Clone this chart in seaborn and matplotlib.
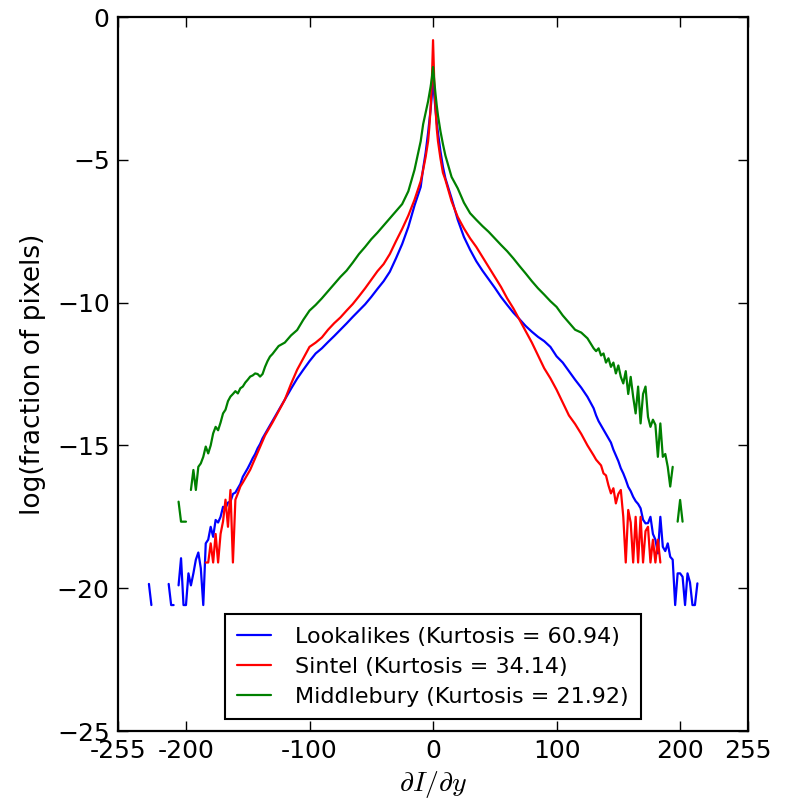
import matplotlib

matplotlib.use("Agg")

import matplotlib.pyplot as plt
import numpy as np
import pandas as pd
import seaborn as sns
from matplotlib.lines import Line2D

nan = np.nan

# gradient bins sampled from the figure (denser in the noisy tails and at the peak)
grad = np.concatenate([
    np.arange(-232, -131, 2),
    np.arange(-130, -14, 5),
    np.array([-10, -8, -6, -4, -3, -2, -1, 0, 1, 2, 3, 4, 6, 8, 10]),
    np.arange(15, 131, 5),
    np.arange(132, 217, 2),
])

lookalikes = [
    # left tail -232..-132
    nan, -19.85, -20.59, nan, nan, nan, nan, nan, nan, -19.85,
    -20.59, -20.59, nan, -19.9, -18.95, -20.59, -20.59, -19.48, -19.9, -19.48,
    -19.0, -18.75, -19.3, -20.59, -18.43, -18.3, -17.85, -18.2, -17.61, -17.7,
    -17.5, -17.15, -17.2, -17.0, -16.97, -16.7, -16.65, -16.5, -16.35, -16.1,
    -15.95, -15.8, -15.63, -15.45, -15.3, -15.1, -14.95, -14.75, -14.6, -14.45,
    -14.3,
    # -130..-15
    -14.15, -13.78, -13.4, -13.02, -12.66, -12.35, -12.05, -11.78, -11.6, -11.38,
    -11.17, -10.95, -10.73, -10.5, -10.28, -10.06, -9.8, -9.52, -9.25, -8.92,
    -8.45, -7.95, -7.35, -6.6,
    # peak
    -5.95, -5.3, -4.75, -4.05, -3.65, -3.25, -2.75, -2.2, -2.75, -3.25,
    -3.7, -4.05, -4.7, -5.24, -5.65,
    # 15..130
    -6.35, -7.1, -7.7, -8.15, -8.55, -8.88, -9.18, -9.48, -9.8, -10.08,
    -10.35, -10.58, -10.82, -11.02, -11.2, -11.35, -11.55, -11.88, -12.1, -12.4,
    -12.7, -12.98, -13.3, -13.7,
    # right tail 132..216
    -13.95, -14.15, -14.3, -14.45, -14.6, -14.75, -14.9, -15.15, -15.35, -15.55,
    -15.8, -15.98, -16.2, -16.45, -16.6, -16.8, -16.95, -17.05, -17.2, -17.6,
    -17.73, -17.72, -17.5, -18.1, -18.3, -18.78, -17.5, -18.55, -18.7, -18.43,
    -18.9, -19.0, -20.59, -19.48, -19.48, -19.6, -20.59, -19.48, -19.8, -20.59,
    -20.59, -19.83, nan,
]

sintel = [
    nan, nan, nan, nan, nan, nan, nan, nan, nan, nan,
    nan, nan, nan, nan, nan, nan, nan, nan, nan, nan,
    nan, nan, nan, nan, -19.1, -19.1, -18.43, -19.1, -18.1, -19.1,
    -18.1, -17.66, -16.9, -17.85, -16.56, -19.1, -16.9, -16.68, -16.44, -16.3,
    -16.15, -16.0, -15.85, -15.65, -15.45, -15.25, -15.05, -14.85, -14.65, -14.5,
    -14.35,
    -14.2, -13.8, -13.4, -12.85, -12.35, -11.95, -11.55, -11.4, -11.22, -10.95,
    -10.72, -10.52, -10.28, -10.05, -9.78, -9.5, -9.2, -8.9, -8.65, -8.3,
    -7.85, -7.42, -6.95, -6.4,
    -5.75, -5.35, -4.9, -4.35, -3.85, -3.2, -2.3, -0.81, -2.3, -3.2,
    -3.9, -4.35, -4.95, -5.45, -5.7,
    -6.45, -7.0, -7.4, -7.75, -8.05, -8.4, -8.75, -9.1, -9.45, -9.85,
    -10.2, -10.6, -11.0, -11.4, -11.85, -12.3, -12.65, -13.05, -13.5, -13.95,
    -14.25, -14.6, -15.0, -15.35,
    -15.5, -15.6, -15.7, -15.98, -16.05, -16.4, -16.68, -16.5, -17.03, -16.7,
    -16.56, -17.5, -19.1, -17.26, -17.7, -19.1, -17.5, -19.1, -17.5, -19.1,
    -18.0, -17.85, -19.1, -18.3, -19.1, -18.3, -19.1, nan, nan, nan,
    nan, nan, nan, nan, nan, nan, nan, nan, nan, nan,
    nan, nan, nan,
]

middlebury = [
    nan, nan, nan, nan, nan, nan, nan, nan, nan, nan,
    nan, nan, nan, -16.97, -17.67, -17.67, -17.67, nan, -16.56, -15.86,
    -16.56, -15.75, -15.63, -15.4, -15.04, -15.28, -15.0, -14.58, -14.35, -14.47,
    -14.2, -13.88, -13.75, -13.45, -13.29, -13.2, -13.1, -13.18, -13.0, -12.94,
    -12.8, -12.7, -12.59, -12.55, -12.48, -12.5, -12.59, -12.5, -12.25, -12.05,
    -11.89,
    -11.8, -11.52, -11.4, -11.15, -10.96, -10.6, -10.28, -10.08, -9.85, -9.6,
    -9.35, -9.1, -8.88, -8.6, -8.3, -8.05, -7.78, -7.55, -7.3, -7.05,
    -6.8, -6.55, -6.1, -5.35,
    -4.35, -3.75, -3.35, -2.95, -2.7, -2.45, -2.15, -1.75, -2.25, -2.7,
    -3.1, -3.45, -4.0, -4.45, -4.85,
    -5.6, -6.0, -6.5, -6.87, -7.1, -7.32, -7.52, -7.75, -7.98, -8.2,
    -8.45, -8.72, -8.98, -9.25, -9.5, -9.72, -9.95, -10.15, -10.45, -10.7,
    -10.95, -11.05, -11.25, -11.6,
    -11.7, -11.6, -11.85, -11.78, -12.1, -11.95, -12.25, -12.1, -12.48, -12.2,
    -12.6, -12.83, -12.4, -13.2, -12.6, -13.3, -13.88, -12.94, -14.23, -13.2,
    -12.94, -14.0, -14.35, -14.1, -14.28, -15.4, -14.23, -15.4, -15.3, -15.75,
    -16.44, -15.75, nan, -17.67, -16.91, -17.67, nan, nan, nan, nan,
    nan, nan, nan,
]

series_names = [
    "Lookalikes (Kurtosis = 60.94)",
    "Sintel (Kurtosis = 34.14)",
    "Middlebury (Kurtosis = 21.92)",
]
series_colors = ["#0000ff", "#ff0000", "#008000"]
xtick_values = [-255, -200, -100, 0, 100, 200, 255]
xtick_labels = ["-255", "-200", "-100", "0", "100", "200", "255"]
ytick_values = [0, -5, -10, -15, -20, -25]


def to_long(name: str, values: list[float]) -> pd.DataFrame:
    vals = np.asarray(values, dtype=float)
    assert len(vals) == len(grad), (name, len(vals))
    seg = np.cumsum(np.isnan(vals))
    df = pd.DataFrame({"grad": grad, "logfrac": vals, "segment": seg, "dataset": name})
    return df.dropna(subset=["logfrac"])


data = pd.concat(
    [to_long(n, v) for n, v in zip(series_names, [lookalikes, sintel, middlebury])],
    ignore_index=True,
)

sns.set_style("ticks")
plt.rcParams["font.family"] = ["DejaVu Sans"]
plt.rcParams["mathtext.fontset"] = "cm"
plt.rcParams["text.color"] = "black"
plt.rcParams["axes.labelcolor"] = "black"

fig = plt.figure(figsize=(7.89, 7.99), dpi=100)
ax = fig.add_axes([0.1496, 0.0851, 0.7985, 0.8936])

sns.lineplot(
    data=data, x="grad", y="logfrac", hue="dataset", units="segment",
    estimator=None, sort=False, palette=dict(zip(series_names, series_colors)),
    hue_order=series_names, legend=False, linewidth=1.6, ax=ax,
)

ax.set_xlim(-255, 255)
ax.set_ylim(-25, 0)
ax.set_xticks(xtick_values)
ax.set_xticklabels(xtick_labels)
ax.set_yticks(ytick_values)
ax.tick_params(direction="in", top=True, right=True, length=7, width=1,
               labelsize=18, pad=6, colors="black")
for sp in ax.spines.values():
    sp.set_visible(True)
    sp.set_color("black")
    sp.set_linewidth(1.6)

ax.set_xlabel(r"$\partial I/\partial y$", fontsize=20, labelpad=4, color="black")
ax.set_ylabel("log(fraction of pixels)", fontsize=19, labelpad=8, color="black")

handles = [Line2D([], [], color=c, linewidth=1.6) for c in series_colors]
leg = ax.legend(handles, series_names, loc="lower center", fontsize=16,
                frameon=True, fancybox=False, framealpha=1, edgecolor="black",
                handlelength=1.5, handletextpad=1.1, borderpad=0.55,
                labelspacing=0.45, borderaxespad=0.55, labelcolor="black")
leg.get_frame().set_linewidth(1.5)

fig.savefig("out.png", dpi=100, facecolor="white")
